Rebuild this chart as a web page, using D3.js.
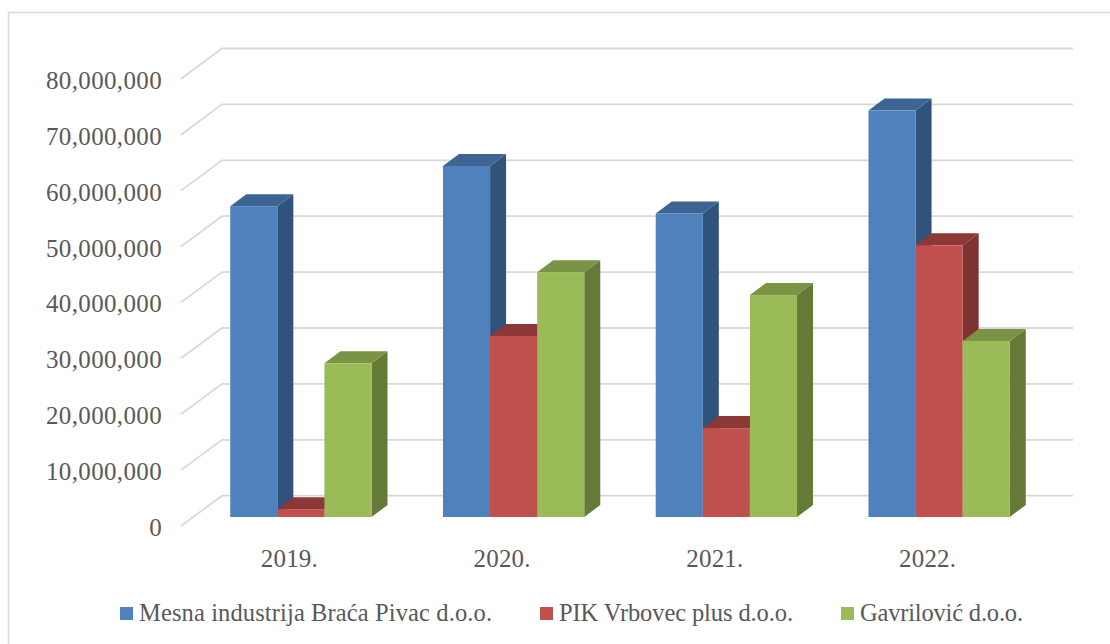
<!DOCTYPE html>
<html><head><meta charset="utf-8">
<script src="https://cdn.jsdelivr.net/npm/d3@7"></script>
<style>
html,body{margin:0;padding:0;background:#fff;overflow:hidden}
text{font-family:"Liberation Serif",serif;fill:#595959}
</style></head><body><svg id="c" width="1110" height="644"></svg>
<script>
const categories = ["2019.","2020.","2021.","2022."];
const seriesNames = ["Mesna industrija Braća Pivac d.o.o.","PIK Vrbovec plus d.o.o.","Gavrilović d.o.o."];
const pivac = [55600000,62800000,54300000,72700000];
const vrbovec = [1400000,32400000,15900000,48600000];
const gavrilovic = [27500000,43800000,39700000,31500000];
const tickValues = [0,10000000,20000000,30000000,40000000,50000000,60000000,70000000,80000000];
const front = ["#4f81bd","#c0504d","#9bbb59"];
const side = ["#31527b","#7f3331","#667a37"];
const topc = ["#3d6593","#8c3836","#7a9344"];

const svg = d3.select("#c");
const series = [pivac,vrbovec,gavrilovic];
const y = d3.scaleLinear().domain([0,80000000]).range([517,69.8]);
const xBand = d3.scaleBand().domain(categories).range([183,1034]).paddingInner(0).paddingOuter(0);
const barW = 47.1, dx = 16, dy = 12;

svg.append("path").attr("d","M8.5,644V12.5H1110").attr("fill","none").attr("stroke","#d9d9d9").attr("stroke-width",1.5);

const grid = svg.append("g").attr("fill","none").attr("stroke","#d9d9d9").attr("stroke-width",1.8);
tickValues.forEach(v=>{
  const yy = y(v);
  grid.append("path").attr("d",`M181,${yy+9}L222,${yy-21.3}H1073`);
});

const ax = svg.append("g").attr("transform","translate(169,10.5)")
  .call(d3.axisLeft(y).tickValues(tickValues).tickFormat(d3.format(",")).tickSize(0).tickPadding(7));
ax.select(".domain").remove();
ax.selectAll("text").attr("font-size",25).attr("letter-spacing",0.35)
  .style("font-family",'"Liberation Serif",serif').style("fill","#595959");

const bx = svg.append("g").attr("transform","translate(0,541)")
  .call(d3.axisBottom(xBand).tickSize(0).tickPadding(8));
bx.select(".domain").remove();
bx.selectAll("text").attr("font-size",25).attr("letter-spacing",0.2)
  .style("font-family",'"Liberation Serif",serif').style("fill","#595959");

categories.forEach((c,i)=>{
  const x0 = xBand(c)+xBand.bandwidth()/2+11.5-barW*1.5;
  series.forEach((s,k)=>{
    const l = x0+k*barW, r = l+barW, t = y(s[i]), b = y(0);
    const g = svg.append("g");
    g.append("path").attr("fill",side[k]).attr("d",`M${r},${t}L${r+dx},${t-dy}V${b-dy}L${r},${b}Z`);
    g.append("path").attr("fill",topc[k]).attr("d",`M${l},${t}L${l+dx},${t-dy}H${r+dx}L${r},${t}Z`);
    g.append("rect").attr("x",l).attr("y",t).attr("width",barW).attr("height",b-t).attr("fill",front[k]);
  });
});

const legendX = d3.scaleOrdinal().domain(seriesNames).range([120,540,841]);
const legendW = d3.scaleOrdinal().domain(seriesNames).range([353,234,163]);
seriesNames.forEach((n,k)=>{
  const lx = legendX(n);
  svg.append("rect").attr("x",lx).attr("y",607).attr("width",13).attr("height",13).attr("fill",front[k]);
  svg.append("text").attr("x",lx+19).attr("y",621).attr("font-size",24.5)
    .attr("textLength",legendW(n)).attr("lengthAdjust","spacing").text(n);
});
</script></body></html>
